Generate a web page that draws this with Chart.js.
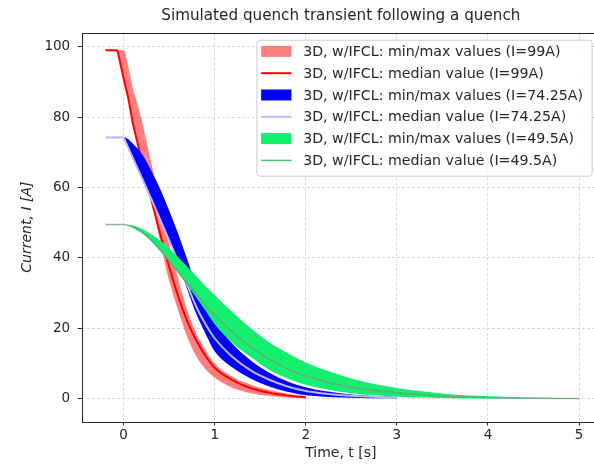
<!DOCTYPE html>
<html>
<head>
<meta charset="utf-8">
<script src="https://cdn.jsdelivr.net/npm/chart.js@4.4.1/dist/chart.umd.min.js"></script>
<style>
  html, body { margin: 0; padding: 0; background: #fff; overflow: hidden; }
</style>
</head>
<body>
<canvas id="quench-chart" width="600" height="469"></canvas>
<script>
// values
const redTime   = [-0.2, -0.07, -0.06, 0, 0.05, 0.1, 0.15, 0.2, 0.3, 0.4, 0.5, 0.6, 0.7, 0.8, 0.9, 1.0, 1.2, 1.4, 1.6, 1.8, 2.0];
const redMedian = [99, 99, 98, 91, 85.5, 78.5, 73, 67.5, 57, 47, 37.5, 29, 22, 16.5, 12.2, 8.8, 5.2, 3.0, 1.7, 0.9, 0.4];
const redMax    = [99, 99, 99, 99, 94.5, 88.5, 84, 79, 67.5, 55.5, 44, 34, 25, 18.5, 13.8, 10, 6.2, 4.0, 2.5, 1.4, 0.7];
const redMin    = [99, 99, 98, 91, 85.5, 78.5, 73, 67.5, 56.5, 45, 33.5, 25, 17.5, 12, 8.4, 6.0, 3.1, 1.6, 0.8, 0.4, 0.2];

const blueTime   = [-0.2, 0, 0.02, 0.1, 0.2, 0.3, 0.4, 0.5, 0.6, 0.7, 0.8, 0.9, 1.0, 1.2, 1.4, 1.6, 1.8, 2.0, 2.2, 2.4, 2.6, 2.8, 3.0];
const blueMedian = [74.25, 74.25, 73.1, 68.5, 62.8, 57, 51, 45, 38.8, 32.2, 26, 21.2, 17.2, 11.8, 8.0, 5.4, 3.5, 2.2, 1.5, 1.0, 0.7, 0.5, 0.35];
const blueMax    = [74.25, 74.25, 74.2, 72.5, 69.6, 65, 59.7, 53.5, 46.8, 39.5, 32, 26, 21.8, 15.5, 10.8, 7.4, 4.9, 3.3, 2.2, 1.5, 1.0, 0.7, 0.5];
const blueMin    = [74.25, 74.25, 73.1, 68.5, 62.8, 57, 51, 45, 38.5, 31, 24, 18.5, 13.5, 8.8, 5.7, 3.5, 2.0, 1.0, 0.6, 0.35, 0.2, 0.12, 0.08];

const greenTime   = [-0.2, 0, 0.1, 0.2, 0.3, 0.4, 0.5, 0.6, 0.7, 0.8, 0.9, 1.0, 1.2, 1.4, 1.6, 1.8, 2.0, 2.25, 2.5, 2.75, 3.0, 3.25, 3.5, 3.75, 4.0, 4.5, 5.0];
const greenMedian = [49.5, 49.5, 48.8, 47.4, 45.2, 42.4, 39.2, 36, 32.8, 29.6, 26.6, 23.8, 18.8, 14.6, 11.2, 8.5, 6.5, 4.6, 3.3, 2.4, 1.7, 1.2, 0.8, 0.5, 0.35, 0.15, 0.05];
const greenMax    = [49.5, 49.5, 49.2, 48.3, 46.8, 45, 42.8, 40.2, 37.5, 34.8, 32, 29.5, 24.5, 20, 16, 13, 10.3, 7.8, 5.8, 4.2, 3.1, 2.2, 1.5, 1.0, 0.7, 0.3, 0.15];
const greenMin    = [49.5, 49.5, 48.6, 47, 44.8, 42, 39, 35.7, 32.2, 28.7, 25, 21.2, 15.8, 11.8, 8.2, 5.8, 4.0, 2.6, 1.6, 1.0, 0.6, 0.35, 0.2, 0.1, 0.05, 0, 0];

const xTicks = [0, 1, 2, 3, 4, 5];
const yTicks = [0, 20, 40, 60, 80, 100];

const legendLabels = [
    '3D, w/IFCL: min/max values (I=99A)',
    '3D, w/IFCL: median value (I=99A)',
    '3D, w/IFCL: min/max values (I=74.25A)',
    '3D, w/IFCL: median value (I=74.25A)',
    '3D, w/IFCL: min/max values (I=49.5A)',
    '3D, w/IFCL: median value (I=49.5A)',
];

const fontFamily = '"DejaVu Sans", sans-serif';
const textColor = '#262626';

function points(time, values) {
    return time.map((t, i) => ({ x: t, y: values[i] }));
}

// upper edge first, then the lower edge fills back to it
function band(time, upper, lower, color, label) {
    return [
        { data: points(time, upper), borderWidth: 0, fill: false },
        { data: points(time, lower), borderWidth: 0, fill: '-1', backgroundColor: color,
          legendLabel: label, legendKind: 'band', legendColor: color },
    ];
}

function median(time, values, color, width, label, legendColor) {
    return { data: points(time, values), borderColor: color, borderWidth: width, fill: false,
             legendLabel: label, legendKind: 'line', legendColor: legendColor || color };
}

let datasets = [
    ...band(redTime, redMax, redMin, 'rgba(255,0,0,0.5)', legendLabels[0]),
    median(redTime, redMedian, '#ff0000', 2, legendLabels[1]),
    ...band(blueTime, blueMax, blueMin, '#0000ff', legendLabels[2]),
    median(blueTime, blueMedian, '#b8b8ff', 2, legendLabels[3]),
    ...band(greenTime, greenMax, greenMin, '#14f06e', legendLabels[4]),
    median(greenTime, greenMedian, 'rgba(120,150,125,0.75)', 1.5, legendLabels[5], '#46c476'),
];
// later datasets go on top, like the original plot
datasets.forEach((d, i) => { d.order = datasets.length - i; d.pointRadius = 0; });

// title, frame and legend drawn on the canvas
const decorPlugin = {
    id: 'decor',
    afterDatasetsDraw(chart) {
        const { ctx, chartArea: a } = chart;
        ctx.save();
        ctx.strokeStyle = textColor;
        ctx.lineWidth = 1;
        ctx.strokeRect(Math.round(a.left) + 0.5, Math.round(a.top) + 0.5,
                       Math.round(a.right - a.left), Math.round(a.bottom - a.top));

        ctx.fillStyle = textColor;
        ctx.font = '15.2px ' + fontFamily;
        ctx.textAlign = 'center';
        ctx.textBaseline = 'middle';
        ctx.fillText('Simulated quench transient following a quench', (a.left + a.right) / 2, 16.5);

        // legend box in the upper right corner
        const items = chart.data.datasets.filter(d => d.legendLabel);
        ctx.font = '14.2px ' + fontFamily;
        const textW = Math.max(...items.map(d => ctx.measureText(d.legendLabel).width));
        const right = a.right - 8.3, top = a.top + 7;
        const w = textW + 55.4, h = 136, left = right - w;
        ctx.beginPath();
        ctx.roundRect(left + 0.5, top + 0.5, w, h, 3);
        ctx.fillStyle = 'rgba(255,255,255,0.8)';
        ctx.fill();
        ctx.strokeStyle = '#cccccc';
        ctx.stroke();
        items.forEach((d, i) => {
            const y = top + 11.7 + i * 21.8;
            const sx = left + 4.7;
            if (d.legendKind === 'band') {
                ctx.fillStyle = d.legendColor;
                ctx.fillRect(sx, y - 5.5, 30.3, 11);
            } else {
                ctx.strokeStyle = d.legendColor;
                ctx.lineWidth = d.borderWidth;
                ctx.beginPath();
                ctx.moveTo(sx, y);
                ctx.lineTo(sx + 30.3, y);
                ctx.stroke();
            }
            ctx.fillStyle = textColor;
            ctx.textAlign = 'left';
            ctx.fillText(d.legendLabel, sx + 42, y + 1);
        });
        ctx.restore();
    }
};

const gridStyle = { color: '#d0d0d0', lineWidth: 0.8, tickLength: 4, tickColor: textColor, tickWidth: 1 };

let canvas = document.querySelector('#quench-chart');
let context = canvas.getContext('2d');

let quenchChart = new Chart(context, {
    type: 'line',
    data: { datasets },
    plugins: [decorPlugin],
    options: {
        responsive: false,
        animation: false,
        layout: { padding: { top: 32.7, left: 0, right: 0, bottom: 0 } },
        elements: { line: { cubicInterpolationMode: 'monotone' } },
        plugins: {
            legend: { display: false },
            tooltip: { enabled: false },
            filler: { drawTime: 'beforeDatasetDraw' },
        },
        scales: {
            x: {
                type: 'linear',
                min: -0.46,
                max: 5.23,
                afterBuildTicks: s => { s.ticks = xTicks.map(v => ({ value: v })); },
                afterFit: s => { s.height = 47.5; },
                grid: gridStyle,
                border: { display: false, dash: [3, 2] },
                ticks: { color: textColor, font: { family: fontFamily, size: 13.5 }, padding: 2, maxRotation: 0, autoSkip: false },
                title: { display: true, text: 'Time, t [s]', color: textColor,
                         font: { family: fontFamily, size: 14 }, padding: { top: 0, bottom: 7.6 } },
            },
            y: {
                type: 'linear',
                min: -6.45,
                max: 104,
                afterBuildTicks: s => { s.ticks = yTicks.map(v => ({ value: v })); },
                afterFit: s => { s.width = 81.7; },
                grid: gridStyle,
                border: { display: false, dash: [3, 2] },
                ticks: { color: textColor, font: { family: fontFamily, size: 13.5 }, padding: 7.5 },
                title: { display: true, text: 'Current, I [A]', color: textColor,
                         font: { family: fontFamily, size: 14, style: 'italic' }, padding: { top: 18.6, bottom: 0 } },
            },
        },
    },
});
</script>
</body>
</html>
